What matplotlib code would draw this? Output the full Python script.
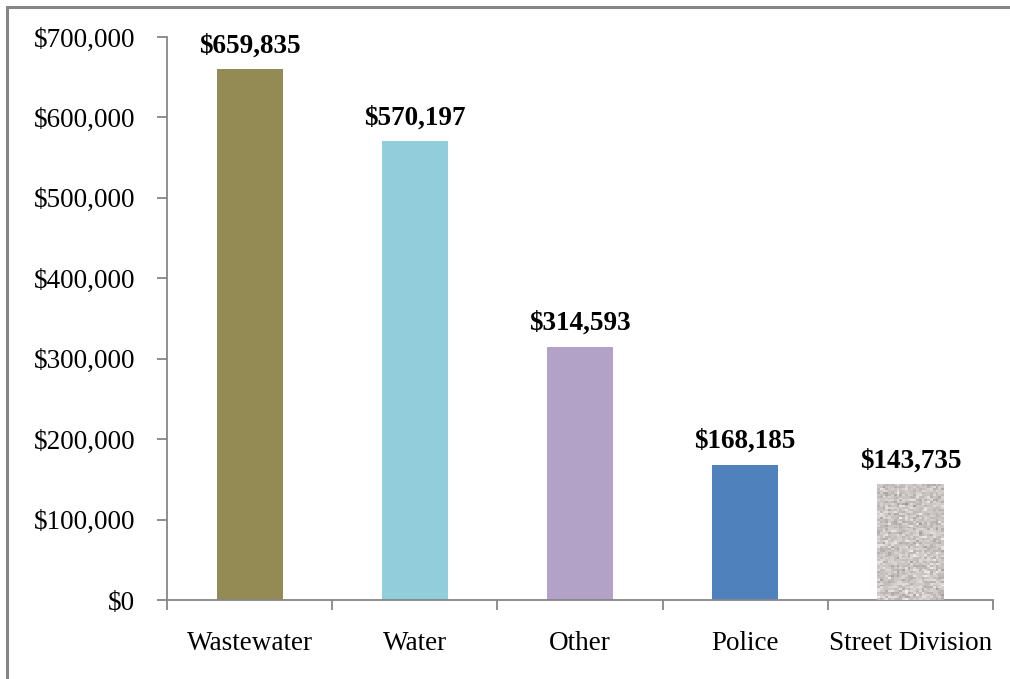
import numpy as np
import matplotlib
matplotlib.use("Agg")
import matplotlib.pyplot as plt
from matplotlib.patches import Rectangle
from matplotlib.ticker import FuncFormatter, MultipleLocator

categories = ["Wastewater", "Water", "Other", "Police", "Street Division"]
values = [659835, 570197, 314593, 168185, 143735]
colors = ["#948a54", "#92cddc", "#b2a2c7", "#4f81bd", "#cbc4c1"]

plt.rcParams["font.family"] = ["Liberation Serif", "DejaVu Serif"]

fig = plt.figure(figsize=(10.10, 6.79), dpi=100)
ax = fig.add_axes([0.1653, 0.1163, 0.8178, 0.8292])

x = np.arange(len(categories))
bars = ax.bar(x, values, width=0.4, color=colors, zorder=2)

# granite-like texture on the last bar
last = bars[-1]
rng = np.random.default_rng(7)
tex = rng.normal(0.80, 0.06, size=(60, 24))
tex = np.clip(tex, 0.55, 0.98)
rgb = np.dstack([tex * 1.0, tex * 0.975, tex * 0.965])
bx, by = last.get_x(), last.get_y()
bw, bh = last.get_width(), last.get_height()
img = ax.imshow(rgb, extent=[bx, bx + bw, by, by + bh], aspect="auto",
                interpolation="nearest", zorder=3)
img.set_clip_path(last)

for xi, v in zip(x, values):
    ax.annotate(f"${v:,.0f}", (xi, v), xytext=(0, 8), textcoords="offset points",
                ha="center", va="bottom", fontsize=19.5, fontweight="bold")

ax.set_xlim(-0.5, len(categories) - 0.5)
ax.set_ylim(0, 700000)
ax.yaxis.set_major_locator(MultipleLocator(100000))
ax.yaxis.set_major_formatter(FuncFormatter(lambda v, p: f"${v:,.0f}"))

ax.set_xticks(x)
ax.set_xticklabels(categories)
ax.set_xticks(np.arange(-0.5, len(categories)), minor=True)
ax.tick_params(axis="x", which="major", length=0, pad=22, labelsize=19.5)
ax.tick_params(axis="x", which="minor", length=7, width=1.3, color="#868686",
               direction="out")
ax.tick_params(axis="y", length=7, width=1.3, color="#868686", direction="out",
               pad=16, labelsize=19.5)

for side in ("top", "right"):
    ax.spines[side].set_visible(False)
for side in ("left", "bottom"):
    ax.spines[side].set_color("#868686")
    ax.spines[side].set_linewidth(1.3)

# outer frame of the chart area
fig.add_artist(Rectangle((7 / 1010, -0.1), 1.2, 1 - 7.5 / 679 + 0.1,
                         transform=fig.transFigure, fill=False,
                         edgecolor="#868686", linewidth=2.2, zorder=0))

fig.savefig("out.png", dpi=100)
